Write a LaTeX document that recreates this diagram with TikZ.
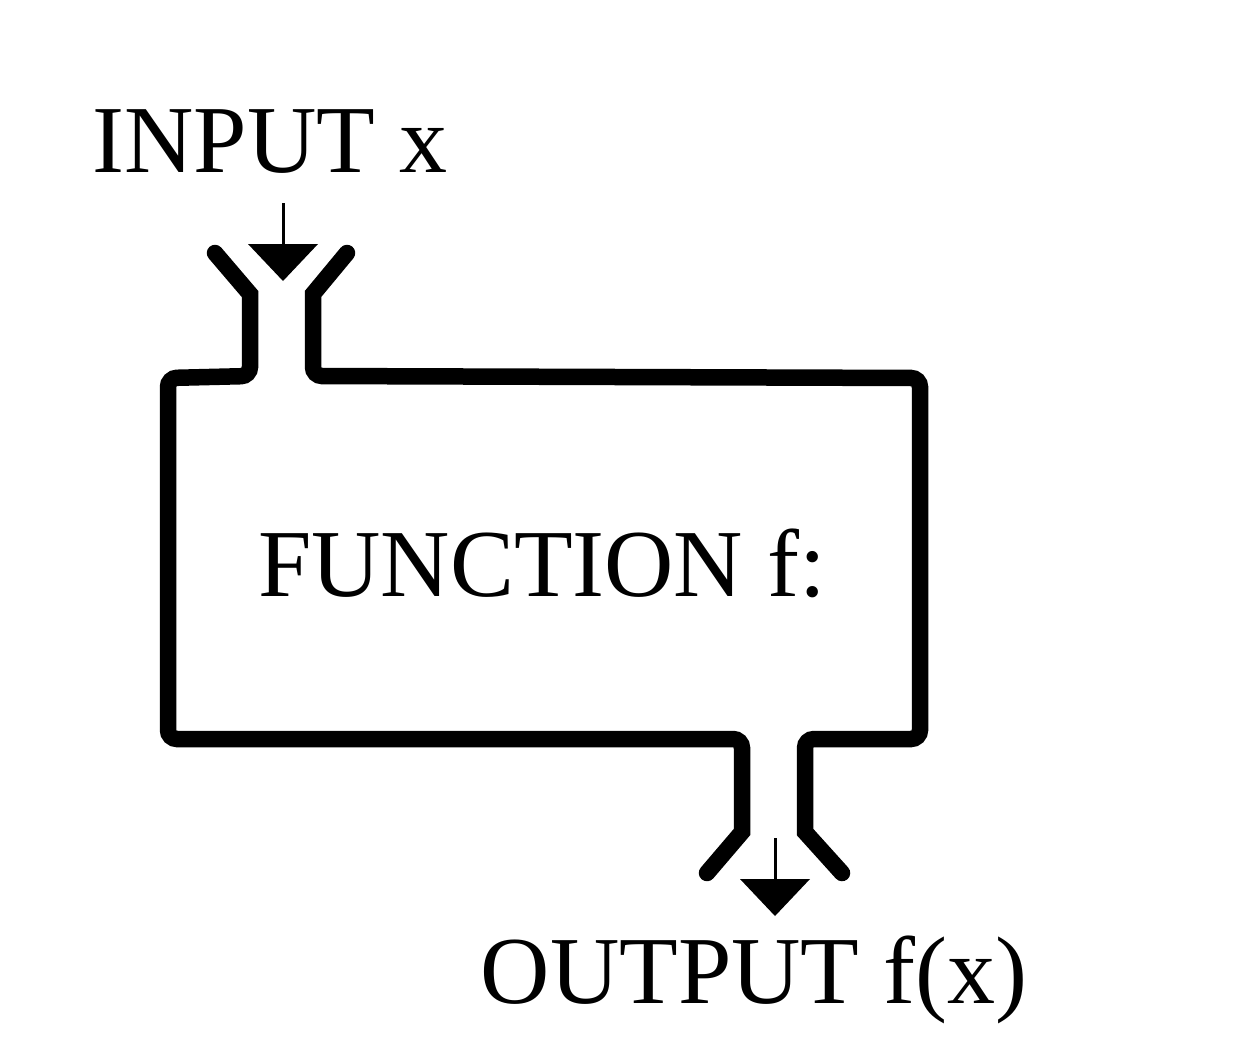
\documentclass[tikz,border=0pt]{standalone}
\usepackage{fontspec}
\setmainfont{Liberation Serif}
\begin{document}
\begin{tikzpicture}[x=1pt,y=-1pt,
  wall/.style={line width=16.5pt,line cap=round,line join=miter},
  stem/.style={line width=3pt},
  tip/.style={fill=black},
  bigtext/.style={inner sep=0pt,anchor=base,font=\fontsize{96}{96}\selectfont}]
\useasboundingbox (0,0) rectangle (1260,1060);
% texts
\node[bigtext] (in) at (270,172) {INPUT x};
\node[bigtext] (fn) at (542,596) {FUNCTION f:};
\node[bigtext] (out) at (754,1003) {OUTPUT f(x)};
% machine walls
\draw[wall] (215,253) -- (250,294) [rounded corners=9pt] -- (250,376) -- (168,378) -- (168,739) -- (742,739) [sharp corners] -- (742,832) -- (707,873);
\draw[wall] (347,253) -- (313,294) [rounded corners=9pt] -- (313,376) -- (920,378) -- (920,739) -- (805,739) [sharp corners] -- (805,832) -- (842,873);
% input arrow
\coordinate (a1) at (283,203);
\coordinate (a2) at (283,246);
\draw[stem] (a1) -- (a2);
\fill[tip] (248,244) -- (318,244) -- (283,281) -- cycle;
% output arrow
\coordinate (b1) at (775,838);
\coordinate (b2) at (775,881);
\draw[stem] (b1) -- (b2);
\fill[tip] (740,879) -- (810,879) -- (775,916) -- cycle;
\end{tikzpicture}
\end{document}
